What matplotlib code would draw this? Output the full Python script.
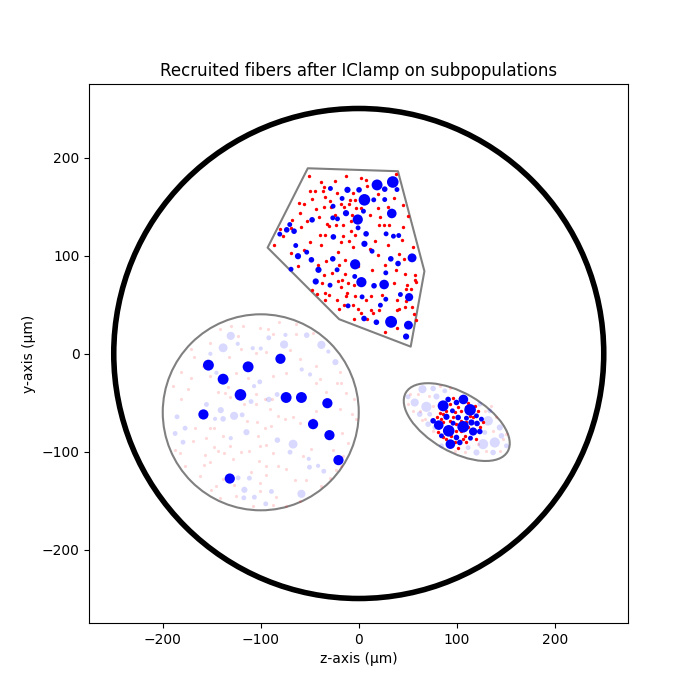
import matplotlib
matplotlib.use("Agg")
import matplotlib.pyplot as plt
from matplotlib.patches import Circle, Polygon, Ellipse
import numpy as np

# ---- region outlines (μm) ----
nerve_radius = 250
poly_vertices = [(-52, 189), (40, 186), (67, 84), (53, 7), (-20, 35), (-93, 108)]
circ_center, circ_radius = (-100, -60), 100
ell_center, ell_width, ell_height, ell_angle = (100, -70), 120, 60, -30

# ---- polygon population: recruited (blue, x, y, diameter) ----
poly_blue = [
    (34.7, 175, 10.7), (18.7, 172, 10.0), (5.8, 156.8, 10.7), (-1, 136.7, 9.3), (33.7, 142.9, 8.7),
    (-3.7, 91, 9.3), (2.7, 72.8, 9.3), (25.9, 70.4, 8.7), (33, 32.3, 11.0), (50.7, 28.9, 8.0),
    (54.4, 97.6, 8.0), (51.4, 57.5, 7.3),
    (-11.5, 167, 5.3), (-28.9, 168.4, 4.0), (0.3, 167, 4.7), (26.5, 167.7, 4.7), (39, 167.3, 4.0),
    (-17, 158.2, 4.0), (15.3, 156.8, 4.0), (26.5, 157.1, 4.0), (-26.2, 150.3, 4.0), (4.8, 145.2, 4.0),
    (-13, 143.2, 5.3), (-26.5, 138.4, 4.0), (-21.7, 137.4, 4.0), (-47.6, 136.4, 4.7), (-0.7, 128.2, 4.0),
    (-70.4, 131.6, 4.0), (-73.5, 126.2, 4.7), (-66, 124.8, 4.7), (-80.6, 121.8, 4.0), (-25.9, 119, 4.7),
    (7.5, 122.1, 4.7), (27.9, 122.1, 4.0), (35.4, 119.7, 4.0), (40.8, 120.4, 4.0), (5.8, 111.9, 5.3),
    (-64.3, 110.2, 4.0), (-53.1, 103.4, 4.0), (-62, 99.3, 5.3), (-48.3, 95.6, 4.7), (-26.5, 96.6, 4.7),
    (13.6, 104.4, 4.0), (32.7, 96.6, 4.7), (40.1, 91.8, 4.7), (-69.1, 86, 4.0), (-41.1, 85.4, 5.3),
    (-22.1, 85.4, 4.0), (27.6, 82.3, 4.0), (-4.1, 78.6, 4.0), (-43.9, 73.5, 5.3), (-29.3, 69.7, 4.0),
    (15.6, 69.1, 4.7), (42.5, 60.2, 4.0), (27.6, 55.4, 4.0), (3.4, 57.8, 4.0), (-10.9, 48.6, 4.0),
    (22.1, 49.3, 4.0), (5.4, 35.7, 4.7), (18, 31.9, 4.7), (48.3, 17.3, 5.3),
]
# ---- polygon population: not recruited (red, x, y) ----
poly_red = [
    (-50.7, 181.0), (-38.1, 175.2), (-23.8, 175.9), (-12.9, 181.0), (2.0, 179.3), (7.1, 176.9),
    (8.8, 171.4), (38.4, 182.7), (-49.3, 165.6), (-44.9, 166.0), (-36.4, 166.3), (-35.7, 170.4),
    (-22.4, 163.6), (-34.0, 159.5), (-5.4, 163.6), (-4.1, 157.1), (-8.5, 156.8), (-10.2, 152.7),
    (-48.0, 157.8), (-29.3, 156.1), (-55.4, 152.7), (-60.9, 153.7), (-18.4, 152.7), (20.1, 162.9),
    (36.4, 158.8), (-28.2, 150.0), (-35.0, 150.0), (-15.3, 149.0), (-2.7, 148.6), (2.0, 148.6),
    (19.7, 148.6), (29.9, 149.3), (45.2, 152.0), (-43.2, 147.3), (-60.2, 142.9), (-24.5, 141.2),
    (-7.1, 141.8), (11.2, 141.2), (22.1, 139.1), (50.7, 140.8), (-67.7, 136.7), (-40.8, 139.5),
    (-52.4, 135.0), (-32.0, 132.3), (-58.8, 128.9), (-30.6, 130.3), (-23.5, 131.3), (-15.6, 131.3),
    (-8.2, 135.0), (21.1, 131.3), (25.5, 131.0), (30.6, 131.0), (45.2, 129.3), (-80.6, 127.2),
    (-69.4, 128.2), (-76.9, 119.7), (-34.4, 120.7), (-39.1, 120.7), (-15.6, 119.4), (-3.4, 121.4),
    (-7.8, 125.5), (-49.3, 113.9), (-38.8, 111.2), (-18.0, 113.6), (-10.2, 115.3), (16.7, 114.3),
    (43.9, 115.6), (-86.1, 111.2), (-69.4, 102.7), (-55.8, 105.8), (-21.1, 103.1), (-5.4, 108.2),
    (11.2, 107.1), (19.7, 101.0), (30.3, 111.2), (55.8, 108.8), (40.8, 101.7), (-33.0, 94.2),
    (-13.6, 95.2), (-41.2, 90.1), (-20.4, 89.8), (-0.3, 89.1), (27.2, 90.8), (46.6, 96.3),
    (-61.9, 89.1), (-35.4, 80.6), (-27.2, 82.3), (-13.9, 81.6), (13.3, 85.0), (37.8, 85.0),
    (47.6, 81.6), (57.8, 79.6), (49.7, 70.4), (57.1, 75.5), (58.5, 72.8), (-37.4, 72.1),
    (-21.1, 73.8), (-17.3, 74.5), (-4.8, 70.4), (-10.5, 72.1), (36.4, 72.4), (53.7, 65.6),
    (48.0, 66.3), (-47.6, 64.6), (-42.9, 60.9), (-29.9, 59.2), (-34.4, 61.6), (-11.6, 62.2),
    (-4.1, 58.5), (7.1, 55.1), (12.2, 58.8), (23.5, 60.2), (39.1, 54.4), (48.6, 53.4),
    (-34.7, 55.1), (-22.1, 54.1), (-15.0, 50.0), (-5.4, 50.0), (-0.7, 45.9), (12.2, 44.2),
    (21.1, 43.9), (39.5, 44.2), (46.9, 47.6), (54.1, 47.3), (56.1, 40.8), (-20.1, 44.9),
    (-4.8, 35.7), (8.2, 34.7), (14.6, 41.5), (2.4, 41.5), (38.8, 26.2), (27.2, 22.1),
    (58.5, 34.4), (41.5, 45.6), (-13.3, 58.5), (-18.0, 68.0),
]

# ---- circle population ----
circ_blue = [
    (-153.4, -11.9, 10.0), (-112.9, -13.6, 10.0), (-79.9, -5.4, 9.3), (-138.4, -26.2, 10.0),
    (-120.7, -42.2, 10.7), (-74.1, -44.9, 10.0), (-58.5, -44.9, 10.0), (-32.0, -50.7, 9.3),
    (-158.5, -62.2, 9.3), (-46.6, -72.1, 9.3), (-29.9, -83.3, 9.3), (-20.7, -108.8, 9.3),
    (-131.6, -127.6, 9.3),
]
circ_blue_faded = [
    (-130.6, 18.0, 7.3), (-138.4, 5.8, 8.0), (-123.5, 9.9, 3.3), (-76.2, 9.2, 7.3), (-38.1, 8.8, 7.3),
    (-53.1, 18.7, 4.7), (-74.8, 19.0, 3.3), (-91.8, 16.0, 4.0), (-108.2, 5.4, 3.3), (-100.0, 5.1, 3.3),
    (-151.4, -0.3, 3.3), (-31.0, 2.0, 3.3), (-23.8, -8.8, 5.3), (-58.2, -16.3, 3.3), (-49.7, -21.4, 3.3),
    (-145.2, -19.7, 3.3), (-101.0, -28.9, 4.0), (-106.8, -33.3, 3.3), (-83.3, -41.8, 4.0),
    (-91.8, -46.9, 4.7), (-109.9, -49.0, 4.0), (-155.4, -52.0, 4.0), (-140.8, -57.8, 5.3),
    (-138.4, -66.7, 4.7), (-146.6, -66.7, 3.3), (-127.2, -63.6, 7.3), (-119.0, -62.6, 4.0),
    (-185.4, -64.6, 4.0), (-177.2, -76.2, 4.0), (-187.4, -81.6, 4.0), (-179.3, -90.5, 4.0),
    (-114.6, -80.3, 5.3), (-130.6, -86.4, 3.3), (-83.0, -88.4, 4.7), (-67.0, -92.5, 8.0),
    (-70.1, -100.7, 4.0), (-51.0, -107.5, 3.3), (-41.5, -114.6, 3.3), (-50.3, -116.0, 4.0),
    (-35.7, -120.1, 4.0), (-123.1, -126.9, 4.0), (-111.6, -127.2, 4.0), (-116.7, -139.1, 5.3),
    (-106.5, -146.6, 4.0), (-117.3, -147.3, 4.0), (-89.1, -140.8, 4.0), (-58.5, -143.2, 7.3),
    (-94.9, -153.4, 4.0),
]
circ_red_faded = [
    (-129.9, 27.9), (-141.8, 24.5), (-122.8, 17.7), (-92.5, 24.5), (-87.4, 20.4), (-81.3, 32.0),
    (-63.6, 20.4), (-46.6, 21.1), (-101.0, 26.2), (-120.1, 4.1), (-132.3, -3.4), (-104.4, 0.7),
    (-94.9, 1.4), (-69.7, 3.4), (-168.0, -3.7), (-181.6, -18.4), (-170.7, -24.8), (-189.5, -32.7),
    (-174.1, -36.7), (-181.0, -46.9), (-152.0, -23.1), (-133.3, -34.0), (-136.1, -40.1),
    (-143.2, -39.5), (-131.6, -44.2), (-104.4, -41.5), (-95.6, -46.9), (-88.1, -46.9),
    (-104.4, -52.0), (-117.3, -52.0), (-43.2, -30.6), (-39.1, -26.5), (-22.1, -29.9), (-17.7, -30.6),
    (-4.8, -46.3), (-6.8, -62.2), (-33.0, -39.5), (-19.0, -57.1), (-46.6, -67.3), (-43.2, -58.8),
    (-67.0, -65.0), (-82.0, -63.3), (-90.8, -57.1), (-113.9, -69.0), (-103.7, -69.7), (-95.9, -75.9),
    (-89.1, -74.1), (-75.5, -67.3), (-60.2, -70.7), (-152.0, -75.9), (-148.0, -76.5), (-167.0, -75.9),
    (-138.4, -83.7), (-155.4, -86.1), (-169.0, -89.5), (-102.7, -84.4), (-94.2, -92.9), (-101.0, -94.6),
    (-131.6, -94.6), (-148.0, -95.6), (-143.5, -99.7), (-137.4, -101.4), (-157.1, -103.7),
    (-151.4, -110.5), (-157.8, -113.3), (-128.2, -107.5), (-119.7, -100.7), (-112.2, -99.7),
    (-101.7, -109.9), (-87.4, -101.4), (-56.8, -104.8), (-48.3, -97.3), (-26.2, -98.0), (-16.7, -81.0),
    (-10.9, -91.2), (-38.8, -135.4), (-65.3, -128.6), (-74.5, -117.7), (-82.3, -115.0), (-94.9, -115.0),
    (-101.0, -132.0), (-138.4, -127.9), (-145.2, -135.4), (-94.2, -124.1), (-109.5, -121.1),
    (-127.6, -133.7), (-150.3, -139.5), (-141.8, -147.3), (-101.0, -140.5), (-84.0, -146.3),
    (-73.8, -155.8), (-60.2, -150.7), (-87.4, -154.4), (-107.8, -155.8), (-124.8, -145.6),
    (-162.2, -125.2), (-177.6, -115.0), (-182.7, -101.4), (-187.8, -98.0), (-16.0, -104.8),
    (-17.7, -115.0), (-22.8, -118.4), (-29.6, -126.9), (-53.4, -128.6), (-2.4, -67.3), (-12.6, -40.1),
    (-19.4, -19.0), (-43.2, -12.9), (-60.2, -6.1), (-73.8, -19.7), (-87.4, -23.1), (-112.9, -24.8),
    (-124.8, -19.7), (-158.8, -12.9), (-170.7, 4.1), (-152.0, 10.9), (-118.0, 27.9), (-63.6, 29.6),
]

# ---- ellipse population ----
ell_blue = [
    (86.1, -53.4, 10.0), (106.8, -46.9, 8.7), (113.6, -57.5, 10.7), (81.6, -73.1, 8.7),
    (91.8, -78.9, 10.7), (106.5, -74.8, 10.7), (93.5, -92.5, 8.7), (116.7, -79.6, 7.3),
    (99.7, -50.0, 4.7), (91.2, -46.9, 4.7), (95.6, -58.5, 4.0), (101.4, -65.3, 4.7),
    (89.5, -64.6, 5.3), (115.0, -70.4, 5.3), (120.7, -71.4, 4.7), (125.2, -67.0, 4.0),
    (109.9, -66.0, 4.0), (103.1, -90.8, 4.7), (114.0, -86.4, 4.0), (84.4, -84.0, 4.0),
    (75.9, -68.7, 4.7), (99.7, -85.7, 4.7), (123.5, -79.6, 4.7), (120.1, -63.6, 4.0),
    (96.3, -71.1, 4.0),
]
ell_red = [
    (96.3, -44.9), (92.9, -51.7), (101.4, -54.4), (104.8, -58.5), (109.9, -55.1), (98.0, -60.2),
    (82.7, -61.2), (79.9, -65.3), (84.4, -67.0), (92.9, -68.7), (86.1, -70.4), (99.7, -72.1),
    (104.8, -68.7), (109.9, -70.4), (96.3, -64.6), (104.8, -78.9), (111.6, -75.5), (121.8, -58.5),
    (118.4, -53.4), (123.5, -74.8), (120.1, -87.4), (109.9, -90.8), (106.5, -87.4), (98.0, -90.8),
    (89.5, -87.4), (86.1, -85.7), (81.0, -80.6), (94.6, -84.0), (116.7, -65.3), (126.9, -70.4),
    (99.7, -78.9), (113.3, -63.6), (108.2, -84.0), (89.5, -58.5), (86.1, -61.9), (101.4, -96.0),
    (103.1, -45.6), (111.6, -50.0),
]
ell_blue_faded = [
    (65.0, -36.4, 7.3), (75.9, -35.7, 4.7), (57.1, -50.0, 7.3), (69.0, -54.4, 9.3), (79.3, -43.9, 5.3),
    (87.8, -38.1, 4.0), (50.3, -44.2, 4.0), (62.2, -61.9, 4.7), (72.4, -61.9, 4.0), (132.0, -68.7, 8.7),
    (138.8, -90.8, 9.3), (126.9, -92.5, 9.3), (143.9, -75.5, 5.3), (145.6, -84.0, 4.7), (128.6, -80.6, 4.0),
    (133.7, -58.5, 4.0), (120.1, -101.0, 5.3), (111.6, -96.0, 4.0), (137.1, -101.0, 4.7),
    (150.7, -94.2, 4.0), (123.5, -51.7, 4.0), (77.6, -75.5, 4.0), (70.8, -72.1, 4.7), (84.4, -94.2, 4.0),
]
ell_red_faded = [
    (52.0, -41.5), (55.4, -58.5), (62.2, -58.5), (71.8, -43.2), (82.7, -33.0), (92.9, -34.7),
    (60.5, -41.5), (75.9, -53.4), (50.3, -51.7), (67.3, -67.0), (75.9, -78.9), (98.0, -99.3),
    (128.6, -58.5), (137.1, -78.9), (140.5, -65.3), (147.3, -87.4), (130.3, -99.3), (143.9, -99.3),
    (108.2, -101.0), (121.8, -92.5), (65.0, -68.0), (150.7, -82.3), (135.4, -53.4),
]

RED_DIAM = 3.4        # apparent marker diameter (px)
FADED_RED_DIAM = 3.2
BLUE_PAD = 0.9        # rendered blue diameter = listed value + pad (px)


def s_from_px(d):
    d = np.asarray(d, dtype=float)
    return (d * 72 / 100) ** 2


def scatter_sized(ax, pts, color, alpha=1.0, z=3):
    a = np.array(pts, dtype=float)
    ax.scatter(a[:, 0], a[:, 1], s=s_from_px(a[:, 2] + BLUE_PAD), c=color, alpha=alpha,
               linewidths=0, zorder=z)


def scatter_const(ax, pts, color, d, alpha=1.0, z=3):
    a = np.array(pts, dtype=float)
    ax.scatter(a[:, 0], a[:, 1], s=s_from_px(d), c=color, alpha=alpha,
               linewidths=0, zorder=z)


fig, ax = plt.subplots(figsize=(7, 7), dpi=100)

ax.add_patch(Circle((0, 0), nerve_radius, fill=False, edgecolor='black', linewidth=4, zorder=1))
ax.add_patch(Polygon(poly_vertices, closed=True, fill=False, edgecolor='grey', linewidth=1.5,
                     joinstyle='round', zorder=1))
ax.add_patch(Circle(circ_center, circ_radius, fill=False, edgecolor='grey', linewidth=1.5, zorder=1))
ax.add_patch(Ellipse(ell_center, ell_width, ell_height, angle=ell_angle, fill=False,
                     edgecolor='grey', linewidth=1.5, zorder=1))

# faded (non-targeted) populations
scatter_const(ax, circ_red_faded, 'red', FADED_RED_DIAM, alpha=0.15, z=2)
scatter_sized(ax, circ_blue_faded, 'blue', alpha=0.15, z=2)
scatter_const(ax, ell_red_faded, 'red', FADED_RED_DIAM, alpha=0.15, z=2)
scatter_sized(ax, ell_blue_faded, 'blue', alpha=0.15, z=2)

# targeted populations
scatter_const(ax, poly_red, 'red', RED_DIAM, z=3)
scatter_sized(ax, poly_blue, 'blue', z=4)
scatter_const(ax, ell_red, 'red', RED_DIAM, z=3)
scatter_sized(ax, ell_blue, 'blue', z=4)
scatter_sized(ax, circ_blue, 'blue', z=4)

ax.set_xlim(-275, 275)
ax.set_ylim(-275, 275)
ax.set_aspect('equal')
ax.set_xticks([-200, -100, 0, 100, 200])
ax.set_yticks([-200, -100, 0, 100, 200])
ax.set_title('Recruited fibers after IClamp on subpopulations')
ax.set_xlabel('z-axis (μm)')
ax.set_ylabel('y-axis (μm)')

fig.savefig('out.png', dpi=100)
